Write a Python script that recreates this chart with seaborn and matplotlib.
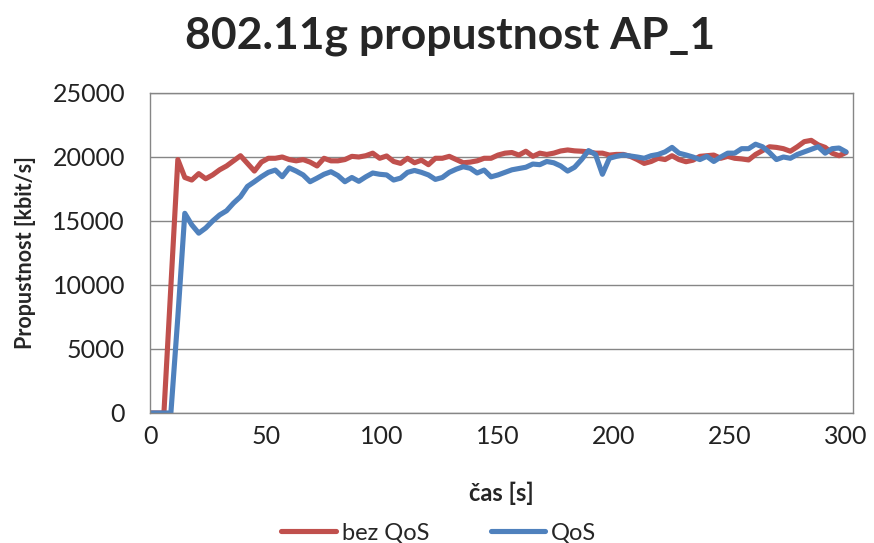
import numpy as np
import pandas as pd
import matplotlib
matplotlib.use("Agg")
import matplotlib.pyplot as plt
import seaborn as sns

# Time axis in seconds (3 s sampling)
cas = list(range(0, 301, 3))

# Throughput without QoS [kbit/s]
bez_qos = [
    0, 0, 0, 9900, 19800, 18400, 18200, 18700, 18300, 18600,
    19000, 19300, 19700, 20100, 19500, 18900, 19600, 19900, 19900, 20000,
    19800, 19700, 19800, 19600, 19300, 19900, 19700, 19700, 19800, 20050,
    20000, 20100, 20300, 19900, 20080, 19650, 19500, 19900, 19550, 19750,
    19400, 19900, 19900, 20050, 19800, 19550, 19600, 19700, 19900, 19900,
    20150, 20300, 20350, 20150, 20450, 20050, 20300, 20200, 20300, 20470,
    20550, 20480, 20450, 20400, 20300, 20300, 20150, 20200, 20200, 20050,
    19800, 19500, 19650, 19900, 19800, 20100, 19800, 19630, 19750, 20050,
    20100, 20150, 19900, 20050, 19900, 19850, 19770, 20200, 20500, 20800,
    20750, 20650, 20450, 20800, 21200, 21300, 20950, 20750, 20300, 20100,
    20350,
]

# Throughput with QoS [kbit/s]
qos = [
    0, 0, 0, 0, 7500, 15600, 14700, 14050, 14450, 15000,
    15470, 15800, 16400, 16900, 17700, 18070, 18460, 18800, 18980, 18460,
    19150, 18900, 18600, 18070, 18350, 18650, 18850, 18550, 18070, 18400,
    18100, 18450, 18750, 18650, 18600, 18200, 18350, 18800, 18950, 18800,
    18600, 18250, 18400, 18800, 19050, 19240, 19120, 18750, 18980, 18450,
    18600, 18800, 19000, 19100, 19200, 19450, 19400, 19650, 19550, 19300,
    18900, 19200, 19800, 20500, 20200, 18650, 19900, 20050, 20160, 20080,
    20000, 19900, 20100, 20200, 20400, 20750, 20300, 20160, 20000, 19800,
    20050, 19650, 20000, 20300, 20300, 20650, 20650, 21000, 20800, 20350,
    19800, 20000, 19900, 20200, 20400, 20600, 20800, 20300, 20650, 20700,
    20400,
]

series_names = ["bez QoS", "QoS"]
colors = ["#C0504D", "#4F81BD"]
y_ticks = [0, 5000, 10000, 15000, 20000, 25000]
x_ticks = [0, 50, 100, 150, 200, 250, 300]

df = pd.concat([
    pd.DataFrame({"cas": cas, "val": bez_qos, "serie": series_names[0]}),
    pd.DataFrame({"cas": cas, "val": qos, "serie": series_names[1]}),
])

sns.set_theme(style="white")
plt.rcParams["font.family"] = ["Lato", "DejaVu Sans"]

fig = plt.figure(figsize=(8.74, 5.43), dpi=100)
ax = fig.add_axes([150 / 874, 1 - 413 / 543, 703 / 874, 320 / 543])

sns.lineplot(data=df, x="cas", y="val", hue="serie", hue_order=series_names,
             palette=colors, linewidth=3.7, ax=ax, legend=False)

grid_c = "#868686"
ax.set_xlim(0, 303)
ax.set_ylim(0, 25000)
ax.set_yticks(y_ticks)
ax.set_xticks(x_ticks)
ax.set_yticklabels([str(v) for v in y_ticks], fontsize=18, color="#222222")
ax.set_xticklabels([str(v) for v in x_ticks], fontsize=18, color="#222222")
ax.tick_params(axis="y", length=0, pad=18)
ax.tick_params(axis="x", length=0, pad=9)
ax.yaxis.grid(True, color=grid_c, linewidth=1)
ax.set_axisbelow(True)
for s in ax.spines.values():
    s.set_color(grid_c)
    s.set_linewidth(1)

ax.set_xlabel("čas [s]", fontsize=17, fontweight="bold", labelpad=24)
ax.set_ylabel("Propustnost [kbit/s]", fontsize=15.5, fontweight="bold", labelpad=12)
fig.suptitle("802.11g propustnost AP_1", fontsize=32, fontweight="bold",
             x=0.515, y=0.97)

handles = [plt.Line2D([], [], color=c, linewidth=3.7) for c in colors]
fig.legend(handles, series_names, loc="lower center", ncol=2, frameon=False,
           fontsize=17, bbox_to_anchor=(0.502, -0.04), handlelength=2.3,
           handletextpad=0.25, columnspacing=2.6)

fig.savefig("out.png", dpi=100)
